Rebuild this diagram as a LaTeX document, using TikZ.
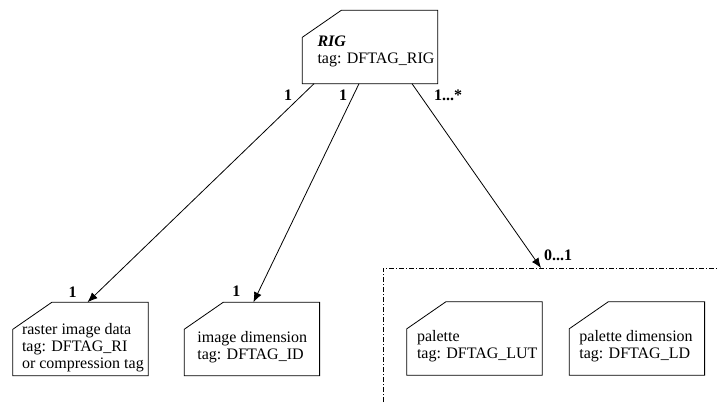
\documentclass[tikz,border=0pt]{standalone}
\usepackage{fontspec}
\setmainfont{Liberation Serif}
\usetikzlibrary{arrows.meta, positioning}

\begin{document}
\begin{tikzpicture}[x=1pt, y=-1pt,
      frame/.style={rectangle, minimum width=135pt, minimum height=73pt, inner sep=0pt},
      cardtext/.style={align=left, anchor=west, inner sep=0pt, font=\fontsize{16}{17}\selectfont},
      mult/.style={inner sep=0pt, font=\fontsize{16}{17}\selectfont\bfseries},
      assoc/.style={-{Latex[length=10pt,width=8pt]}, line width=0.8pt},
      group/.style={line width=0.8pt, dash pattern=on 5pt off 2pt on 1pt off 2pt}]
      \useasboundingbox (0,0) rectangle (717,402);
      % object frames
      \node[frame] (rig) at (370,47) {};
      \node[frame] (raster) at (80.5,339) {};
      \node[frame, right=36pt of raster] (imgdim) {};
      \node[frame] (lut) at (474.5,338.5) {};
      \node[frame, right=27pt of lut] (ld) {};
      \foreach \n in {rig, raster, imgdim, lut, ld}
        \draw[line width=0.8pt] ([xshift=39pt]\n.north west) -- (\n.north east) -- (\n.south east)
          -- (\n.south west) -- ([yshift=-27pt]\n.north west) -- cycle;
      % texts
      \node[cardtext] (rig-t) at ([xshift=15pt, yshift=-4pt]rig.west) {\textbf{\textit{RIG}}\\tag: DFTAG\_RIG};
      \node[cardtext] (raster-t) at ([xshift=9pt, yshift=-9pt]raster.west) {raster image data\\tag: DFTAG\_RI\\or compression tag};
      \node[cardtext] (imgdim-t) at ([xshift=13pt, yshift=-8pt]imgdim.west) {image dimension\\tag: DFTAG\_ID};
      \node[cardtext] (lut-t) at ([xshift=10pt, yshift=-8pt]lut.west) {palette\\tag: DFTAG\_LUT};
      \node[cardtext] (ld-t) at ([xshift=10pt, yshift=-8pt]ld.west) {palette dimension\\tag: DFTAG\_LD};
      % optional palette group
      \coordinate (grp-sw) at (383,402);
      \coordinate (grp-nw) at (383,268);
      \coordinate (grp-ne) at (717,268);
      \coordinate (grp-in) at (541,268);
      \draw[group] (grp-sw) -- (grp-nw) -- (grp-ne);
      % associations
      \draw[assoc] ([xshift=-56pt]rig.south) -- ([xshift=7pt]raster.north)
        node[mult, at start, xshift=-26pt, yshift=-12pt] {1}
        node[mult, at end, xshift=-15pt, yshift=10pt] {1};
      \draw[assoc] ([xshift=-11pt]rig.south) -- ([xshift=1.5pt]imgdim.north)
        node[mult, at start, xshift=-16pt, yshift=-12pt] {1}
        node[mult, at end, xshift=-17pt, yshift=11pt] {1};
      \draw[assoc] ([xshift=42pt]rig.south) -- (grp-in)
        node[mult, at start, xshift=36pt, yshift=-12pt] {1...*}
        node[mult, at end, xshift=17pt, yshift=13pt] {0...1};
    \end{tikzpicture}
\end{document}
